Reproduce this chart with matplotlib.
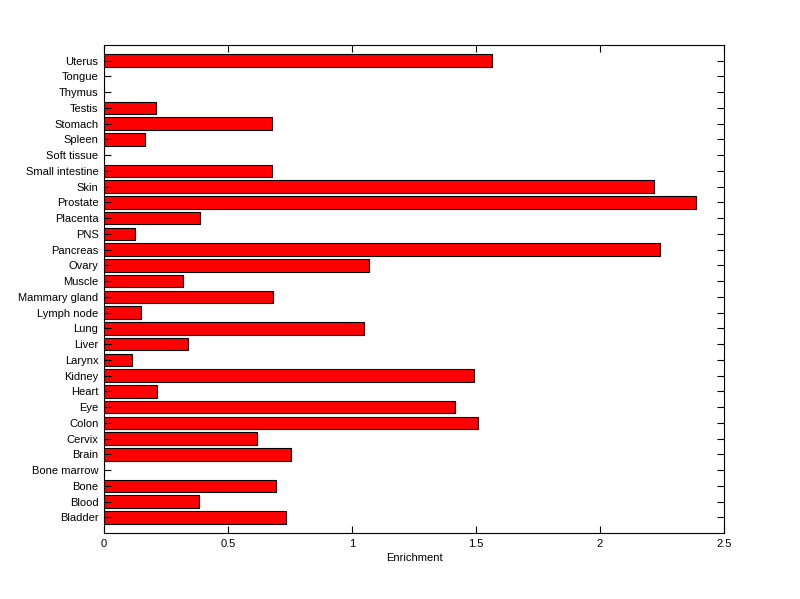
import matplotlib
matplotlib.use('Agg')
import matplotlib.pyplot as plt

tissues = ['Bladder', 'Blood', 'Bone', 'Bone marrow', 'Brain', 'Cervix', 'Colon', 'Eye',
           'Heart', 'Kidney', 'Larynx', 'Liver', 'Lung', 'Lymph node', 'Mammary gland',
           'Muscle', 'Ovary', 'Pancreas', 'PNS', 'Placenta', 'Prostate', 'Skin',
           'Small intestine', 'Soft tissue', 'Spleen', 'Stomach', 'Testis', 'Thymus',
           'Tongue', 'Uterus']
enrichment = [0.735, 0.383, 0.693, 0.0, 0.753, 0.617, 1.508, 1.416,
              0.214, 1.492, 0.113, 0.337, 1.047, 0.148, 0.681,
              0.319, 1.068, 2.243, 0.126, 0.387, 2.387, 2.218,
              0.677, 0.0, 0.165, 0.677, 0.210, 0.0,
              0.0, 1.564]
xticks = [0, 0.5, 1, 1.5, 2, 2.5]
xticklabels = ['0', '0.5', '1', '1.5', '2', '2.5']

plt.rcParams['font.family'] = ['Liberation Sans', 'DejaVu Sans']

fig = plt.figure(figsize=(8, 5.99), dpi=100)
ax = fig.add_axes([0.13, 0.11, 0.775, 0.815])
pos = list(range(1, len(tissues) + 1))
ax.barh(pos, enrichment, height=0.8, color='#ff0000', edgecolor='black', linewidth=0.8)

ax.set_xlim(0, 2.5)
ax.set_ylim(0, len(tissues) + 1)
ax.set_xticks(xticks)
ax.set_xticklabels(xticklabels)
ax.set_yticks(pos)
ax.set_yticklabels(tissues)
ax.set_xlabel('Enrichment', fontsize=8, labelpad=3)
ax.tick_params(direction='in', length=5, width=0.8, labelsize=8,
               top=True, right=True, pad=4)
for s in ax.spines.values():
    s.set_linewidth(0.8)

fig.savefig('out.png', dpi=100)
